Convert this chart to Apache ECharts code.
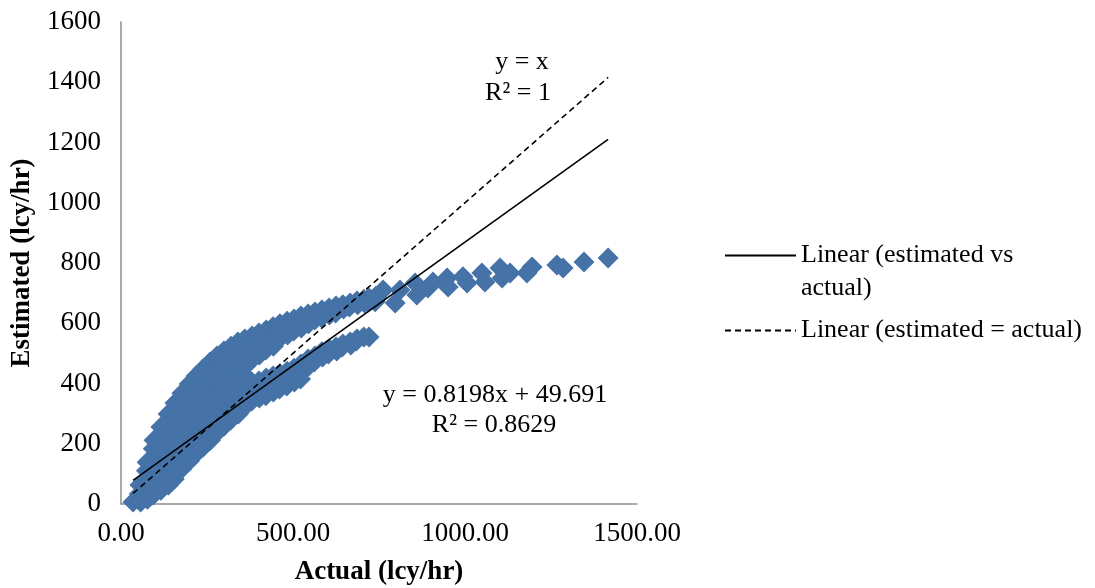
<!DOCTYPE html>
<html>
<head>
<meta charset="utf-8">
<script src="https://cdn.jsdelivr.net/npm/echarts@6/dist/echarts.min.js"></script>
<style>
  html, body { margin: 0; padding: 0; background: #fff; }
  #main { width: 1095px; height: 588px; }
</style>
</head>
<body>
<div id="main"></div>
<script>
// actual (lcy/hr) vs estimated (lcy/hr)
const actual = [
  35,
  55, 53, 57,
  76, 74, 78, 75, 77,
  96, 94, 98, 95, 97, 96, 94,
  116, 118, 115, 117, 116, 114, 117, 116,
  137, 135, 138, 136, 137, 139, 135, 137, 138,
  157, 155, 158, 156, 157, 159, 156, 157, 158, 155,
  177, 179, 176, 178, 177, 175, 178, 177, 179, 176,
  198, 196, 199, 197, 198, 200, 197, 198, 196, 199,
  218, 220, 217, 219, 218, 216, 219, 218, 220, 217,
  238, 236, 239, 237, 238, 240, 237, 238, 236, 239,
  259, 257, 260, 258, 259, 261, 258, 259, 257, 260,
  279, 281, 278, 280, 279, 277, 280, 279, 281, 278,
  299, 297, 300, 298, 299, 301, 298, 299, 297, 300,
  320, 322, 319, 321, 320, 318, 321, 320, 322, 319,
  340, 338, 341, 339, 340, 342, 339, 340, 338, 341,
  360, 362, 359, 361, 360, 358, 361, 360, 362,
  381, 379, 382, 380, 381, 383, 380,
  401, 403, 400, 402, 401, 399, 402,
  422, 420, 423, 421, 422, 424, 421,
  442, 444, 441, 443, 442, 440, 443,
  462, 460, 463, 462, 464, 461,
  483, 481, 484, 483, 485, 482,
  503, 505, 502, 503, 501, 504,
  523, 521, 524, 523, 525, 522,
  544, 542, 545, 544, 546,
  564, 566, 563, 564, 562,
  584, 586, 583, 584, 586,
  605, 603, 606, 605, 603,
  625, 627, 624, 625, 627,
  645, 647, 645, 643,
  666, 664, 666, 668,
  686, 688, 686, 684,
  706, 708, 706,
  721, 719, 721,
  741, 739,
  744, 762, 797, 811, 855, 860, 892, 907, 948, 951, 994, 1006,
  1049, 1058, 1102, 1108, 1131, 1180, 1195, 1267, 1285, 1346, 1416
];
const estimated = [
  7,
  63, 33, 7,
  139, 110, 80, 50, 16,
  212, 183, 153, 123, 93, 63, 30,
  256, 226, 196, 166, 136, 106, 76, 46,
  299, 269, 239, 209, 179, 149, 120, 90, 63,
  335, 305, 276, 246, 216, 186, 156, 126, 100, 83,
  368, 339, 309, 279, 249, 219, 189, 159, 129, 116,
  398, 368, 339, 309, 279, 249, 219, 189, 163, 143,
  425, 395, 365, 335, 305, 276, 246, 216, 186, 166,
  448, 418, 388, 359, 329, 299, 269, 239, 212, 189,
  471, 441, 412, 382, 352, 322, 292, 262, 236, 212,
  491, 461, 432, 402, 372, 342, 312, 282, 256, 236,
  508, 478, 448, 418, 388, 359, 329, 302, 279, 259,
  524, 495, 465, 435, 405, 375, 345, 319, 299, 279,
  538, 508, 478, 448, 418, 388, 359, 332, 312, 299,
  548, 518, 488, 458, 428, 398, 368, 342, 325,
  558, 528, 498, 478, 398, 368, 342,
  568, 541, 515, 495, 408, 378, 352,
  578, 551, 524, 511, 418, 388, 359,
  588, 564, 541, 524, 425, 398, 372,
  598, 574, 551, 432, 405, 382,
  607, 584, 561, 441, 418, 392,
  614, 594, 574, 451, 428, 405,
  624, 604, 584, 465, 438, 415,
  631, 614, 598, 481, 458,
  637, 624, 611, 491, 471,
  644, 631, 618, 505, 488,
  651, 637, 627, 515, 498,
  657, 644, 634, 521, 508,
  661, 647, 531, 521,
  667, 654, 538, 528,
  674, 661, 548, 541,
  680, 667, 554,
  684, 671, 554,
  690, 671,
  687, 710, 667, 710, 734, 694, 717, 737, 750, 720, 754, 734,
  767, 737, 783, 750, 767, 767, 787, 793, 783, 803, 817
];
// trendline range (min / max of actual)
const trendX = [35, 1416];
const slope = 0.8198;
const intercept = 49.691;
const xTicks = [0, 500, 1000, 1500];

const FONT = '"Times New Roman", "Liberation Serif", serif';
const FIT_NAME = 'Linear (estimated vs actual)';
const ID_NAME = 'Linear (estimated = actual)';

const points = actual.map((x, i) => [x, estimated[i]]);
const fitLine = trendX.map(x => [x, slope * x + intercept]);
const idLine = trendX.map(x => [x, x]);

const myChart = echarts.init(document.getElementById('main'));

function note(text, x, y) {
  return {
    type: 'text', x: x, y: y,
    style: { text: text, fontFamily: FONT, fontSize: 26, fill: '#000', align: 'center', verticalAlign: 'middle' }
  };
}

const option = {
  animation: false,
  backgroundColor: '#fff',
  grid: { left: 121, right: 458, top: 22, bottom: 84, containLabel: false, outerBoundsMode: 'none' },
  xAxis: {
    type: 'value',
    min: xTicks[0],
    max: xTicks[xTicks.length - 1],
    interval: 500,
    name: 'Actual (lcy/hr)',
    nameLocation: 'middle',
    nameGap: 55,
    nameTextStyle: { fontFamily: FONT, fontSize: 27, fontWeight: 'bold', color: '#000' },
    axisLine: { lineStyle: { color: '#8e8e8e', width: 1.5 } },
    axisTick: { show: false },
    splitLine: { show: false },
    axisLabel: {
      margin: 16,
      fontFamily: FONT, fontSize: 27, color: '#000',
      formatter: v => v.toFixed(2)
    }
  },
  yAxis: {
    type: 'value',
    min: 0,
    max: 1600,
    interval: 200,
    name: 'Estimated (lcy/hr)',
    nameLocation: 'middle',
    nameGap: 85,
    nameTextStyle: { fontFamily: FONT, fontSize: 27, fontWeight: 'bold', color: '#000' },
    axisLine: { show: true, lineStyle: { color: '#8e8e8e', width: 1.5 } },
    axisTick: { show: false },
    splitLine: { show: false },
    axisLabel: { margin: 20, fontFamily: FONT, fontSize: 27, color: '#000', formatter: v => String(v) }
  },
  legend: {
    orient: 'vertical',
    left: 724,
    top: 206,
    padding: 0,
    itemWidth: 71,
    itemHeight: 14,
    itemGap: 9,
    itemStyle: { opacity: 0 },
    data: [FIT_NAME, ID_NAME],
    // blank first line keeps the line sample level with "Linear (estimated vs"
    formatter: name => name === FIT_NAME ? ' \nLinear (estimated vs\nactual)' : name,
    textStyle: { fontFamily: FONT, fontSize: 26, lineHeight: 33, color: '#000' }
  },
  series: [
    {
      name: 'estimated vs actual',
      type: 'scatter',
      symbol: 'diamond',
      symbolSize: 21,
      itemStyle: { color: '#4572a7', opacity: 1 },
      data: points,
      z: 2
    },
    {
      name: FIT_NAME,
      type: 'line',
      symbol: 'none',
      itemStyle: { color: '#000' },
      lineStyle: { color: '#000', width: 1.6 },
      data: fitLine,
      z: 3
    },
    {
      name: ID_NAME,
      type: 'line',
      symbol: 'none',
      itemStyle: { color: '#000' },
      lineStyle: { color: '#000', width: 1.6, type: [6, 4] },
      data: idLine,
      z: 3
    }
  ],
  graphic: [
    note('y = x', 522, 62),
    note('R² = 1', 518, 93),
    note('y = 0.8198x + 49.691', 495, 395),
    note('R² = 0.8629', 494, 425)
  ]
};
myChart.setOption(option);
</script>
</body>
</html>
